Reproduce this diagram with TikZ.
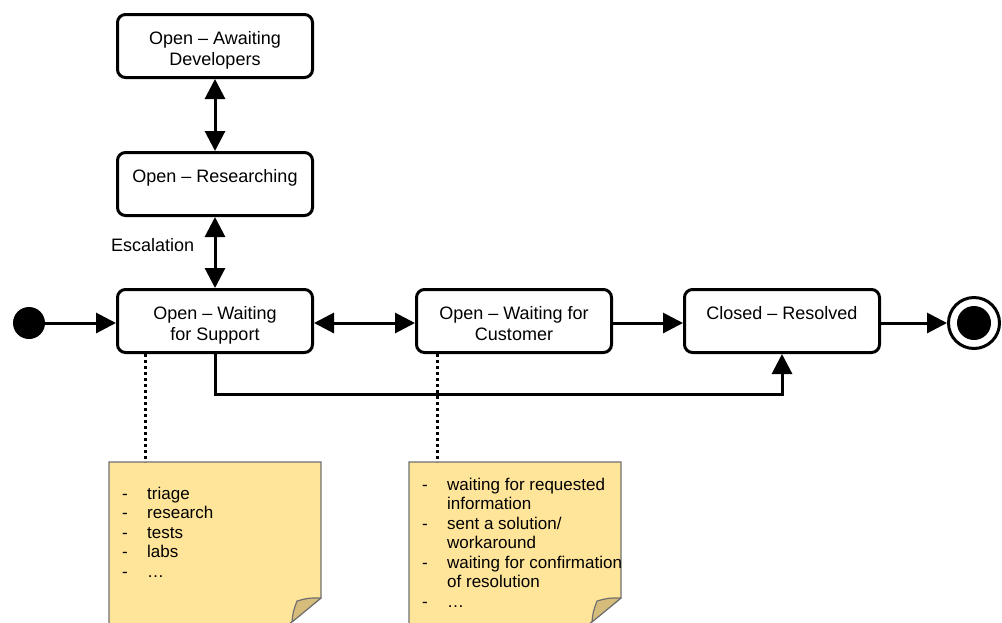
\documentclass[tikz,border=0pt]{standalone}
\usepackage{fontspec}
\setmainfont{Liberation Sans}
\usetikzlibrary{arrows.meta}
\definecolor{notefill}{HTML}{FFE599}
\definecolor{notefold}{HTML}{D6BC7A}
\definecolor{noteline}{HTML}{707070}
\newcommand\nitem{\makebox[25pt][l]{-}}
\newcommand\ncont{\hspace*{25pt}}
\begin{document}
\begin{tikzpicture}[x=1pt,y=-1pt,
 state/.style={draw, line width=3pt, rounded corners=8pt, minimum width=195pt, minimum height=63pt, fill=white, inner sep=0pt},
 stxt/.style={anchor=north, inner sep=0pt, align=center, font=\fontsize{18}{21}\selectfont},
 arr/.style={line width=3pt, -{Triangle[length=20pt,width=20pt]}},
 darr/.style={line width=3pt, {Triangle[length=20pt,width=20pt]}-{Triangle[length=20pt,width=20pt]}},
 dots/.style={line width=3pt, dash pattern=on 3pt off 3pt},
 note/.style={fill=notefill, draw=noteline, line width=1.2pt},
 fold/.style={fill=notefold, draw=noteline, line width=1.2pt, line join=round},
 ntxt/.style={anchor=north west, inner sep=0pt, align=left, font=\fontsize{17}{19.5}\selectfont}
]
\useasboundingbox (0,0) rectangle (1002,622);

% states
\node[state] (aw) at (215,46) {};
\node[state] (res) at (215,184) {};
\node[state] (wfs) at (215,321) {};
\node[state] (wfc) at (514,321) {};
\node[state] (cl) at (782,321) {};

\node[stxt] (awt) at ([yshift=-16.3pt]aw.north) {\strut Open – Awaiting\\Developers};
\node[stxt] (rest) at ([yshift=-16.3pt]res.north) {\strut Open – Researching};
\node[stxt] (wfst) at ([yshift=-16.3pt]wfs.north) {\strut Open – Waiting\\for Support};
\node[stxt] (wfct) at ([yshift=-16.3pt]wfc.north) {\strut Open – Waiting for\\Customer};
\node[stxt] (clt) at ([yshift=-16.3pt]cl.north) {\strut Closed – Resolved};

% start / end
\node[circle, fill=black, minimum size=32pt, inner sep=0pt] (start) at (29,323) {};
\node[circle, draw, line width=3pt, minimum size=51pt, inner sep=0pt] (end) at (974,323) {};
\node[circle, fill=black, minimum size=34pt, inner sep=0pt] (endin) at (end.center) {};

% connectors
\draw[darr] (aw) -- (res);
\draw[darr] (res) -- (wfs);
\node[anchor=base west, inner sep=0pt, font=\fontsize{18}{21}\selectfont] (esc) at (111,251) {Escalation};
\draw[arr] (start) -- (start -| wfs.west);
\draw[darr] (wfs.east |- start) -- (wfc.west |- start);
\draw[arr] (wfc.east |- start) -- (cl.west |- start);
\draw[arr] (cl.east |- start) -- (end);
\draw[arr] (wfs.south) -- ++(0,40) -| (cl.south);

% notes
\coordinate (n1top) at (145,462);
\coordinate (n2top) at (437,462);
\begin{scope}
\clip (0,0) rectangle (1002,622);
\path[note] (109,660) -- (109,462) -- (321,462) -- (321,598) -- (245,660) -- cycle;
\path[fold] (321,598) -- (292,622) .. controls (293,612) .. (297,601) .. controls (308,598) .. (321,598) -- cycle;
\path[note] (409,660) -- (409,462) -- (621,462) -- (621,598) -- (545,660) -- cycle;
\path[fold] (621,598) -- (592,622) .. controls (593,612) .. (597,601) .. controls (608,598) .. (621,598) -- cycle;
\end{scope}
\draw[dots] (wfs.south -| n1top) -- (n1top);
\draw[dots] (wfc.south -| n2top) -- (n2top);

\node[ntxt] (n1t) at (122,485.35) {\strut\nitem triage\\\nitem research\\\nitem tests\\\nitem labs\\\nitem …};
\node[ntxt] (n2t) at (422,476.35) {\strut\nitem waiting for requested\\\ncont information\\\nitem sent a solution/\\\ncont workaround\\\nitem waiting for confirmation\\\ncont of resolution\\\nitem …};
\end{tikzpicture}
\end{document}
